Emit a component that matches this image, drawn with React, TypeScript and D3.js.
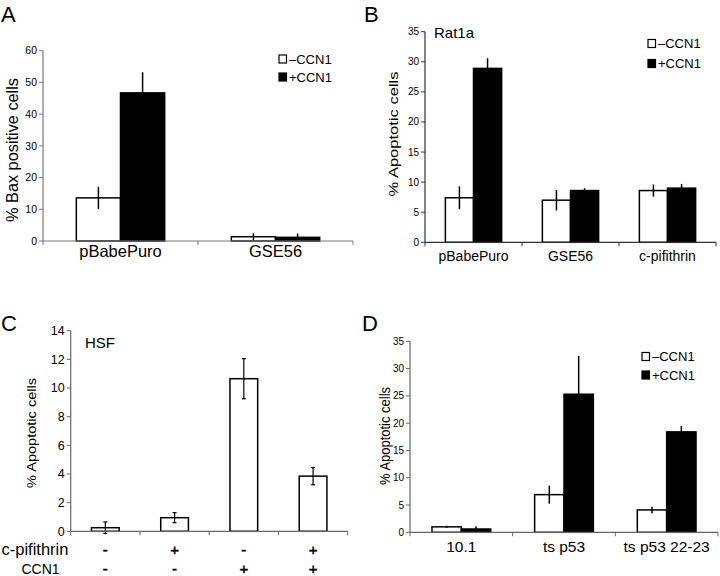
import React from "react";
import * as d3 from "d3";

// ---------- Data ----------
const aCategories = ["pBabePuro", "GSE56"];
const aMinus = [13.6, 1.35];
const aMinusErr = [3.5, 1.1];
const aPlus = [46.7, 1.15];
const aPlusErr = [6.5, 1.2];
const aTicks = [0, 10, 20, 30, 40, 50, 60];

const bCategories = ["pBabePuro", "GSE56", "c-pifithrin"];
const bMinus = [7.4, 7.0, 8.6];
const bMinusErr = [1.9, 1.7, 1.0];
const bPlus = [28.9, 8.6, 9.0];
const bPlusErr = [1.7, 0.4, 0.7];
const bTicks = [0, 5, 10, 15, 20, 25, 30, 35];

const cGroups = ["g1", "g2", "g3", "g4"];
const cValues = [0.25, 0.95, 10.65, 3.85];
const cErr = [0.4, 0.35, 1.4, 0.6];
const cPifithrin = ["-", "+", "-", "+"];
const cCCN1 = ["-", "-", "+", "+"];
const cTicks = [0, 2, 4, 6, 8, 10, 12, 14];

const dCategories = ["10.1", "ts p53", "ts p53 22-23"];
const dMinus = [1.0, 6.9, 4.1];
const dMinusErr = [0.2, 1.65, 0.6];
const dPlus = [0.6, 25.3, 18.4];
const dPlusErr = [0.5, 7.0, 1.1];
const dTicks = [0, 5, 10, 15, 20, 25, 30, 35];

const legendLabels = ["\u2013CCN1", "+CCN1"];

const FONT = "'Liberation Sans', Arial, sans-serif";

type PairPanelProps = {
  x0: number; x1: number; yBase: number; yTopPx: number; yMax: number;
  ticks: number[]; categories: string[];
  minus: number[]; minusErr: number[]; plus: number[]; plusErr: number[];
  tickFont: number; catFont: number; catBaseline: number;
  yTitle: string; yTitleX: number; yTitleY: number; yTitleFont: number; yTitleLen: number;
  legendX: number; legendY: number; legendGap: number;
  axisColor: string; barFrac: number;
};

function PairPanel(p: PairPanelProps) {
  const y = d3.scaleLinear().domain([0, p.yMax]).range([p.yBase, p.yTopPx]);
  const x = d3.scaleBand<string>().domain(p.categories).range([p.x0, p.x1]).padding(0);
  const bw = x.bandwidth() * p.barFrac;
  const bounds = [...p.categories.map((c) => x(c)!), p.x1];
  return (
    <g fontFamily={FONT}>
      {p.categories.map((c, i) => {
        const cx = x(c)! + x.bandwidth() / 2;
        const items = [
          { v: p.minus[i], e: p.minusErr[i], fill: "#fff", bx: cx - bw },
          { v: p.plus[i], e: p.plusErr[i], fill: "#000", bx: cx },
        ];
        return (
          <g key={c}>
            {items.map((it, j) => (
              <g key={j}>
                <rect x={it.bx} y={y(it.v)} width={bw} height={y(0) - y(it.v)}
                  fill={it.fill} stroke="#000" strokeWidth={1.5} />
                <line x1={it.bx + bw / 2} x2={it.bx + bw / 2}
                  y1={y(Math.max(0, it.v - it.e))} y2={y(it.v + it.e)}
                  stroke="#000" strokeWidth={1.5} />
              </g>
            ))}
            <text x={cx} y={p.catBaseline} textAnchor="middle" fontSize={p.catFont}>{c}</text>
          </g>
        );
      })}
      <line x1={p.x0} x2={p.x0} y1={p.yBase} y2={p.yTopPx} stroke={p.axisColor} strokeWidth={1.2} />
      <line x1={p.x0} x2={p.x1} y1={p.yBase} y2={p.yBase} stroke={p.axisColor} strokeWidth={1.2} />
      {p.ticks.map((t) => (
        <g key={t}>
          <line x1={p.x0 - 4} x2={p.x0} y1={y(t)} y2={y(t)} stroke={p.axisColor} strokeWidth={1} />
          <text x={p.x0 - 6} y={y(t)} dy="0.35em" textAnchor="end" fontSize={p.tickFont}>{t}</text>
        </g>
      ))}
      {bounds.map((b, i) => (
        <line key={i} x1={b} x2={b} y1={p.yBase} y2={p.yBase + 4} stroke={p.axisColor} strokeWidth={1} />
      ))}
      <text transform={`translate(${p.yTitleX},${p.yTitleY}) rotate(-90)`} textAnchor="middle"
        fontSize={p.yTitleFont} dy="0.35em" textLength={p.yTitleLen} lengthAdjust="spacingAndGlyphs">{p.yTitle}</text>
      {legendLabels.map((l, i) => (
        <g key={l} transform={`translate(${p.legendX},${p.legendY + i * p.legendGap})`}>
          <rect x={0} y={-4} width={7.5} height={8} fill={i === 0 ? "#fff" : "#000"} stroke="#000" strokeWidth={1.2} />
          <text x={10} y={0} dy="0.35em" fontSize={13}>{l}</text>
        </g>
      ))}
    </g>
  );
}

function PanelC() {
  const x0 = 70.7, x1 = 347.7, yBase = 531.3, yTopPx = 330.7;
  const y = d3.scaleLinear().domain([0, 14]).range([yBase, yTopPx]);
  const x = d3.scaleBand<string>().domain(cGroups).range([x0, x1]).padding(0);
  const bw = x.bandwidth() * 0.4;
  const bounds = [...cGroups.map((g) => x(g)!), x1];
  const axisColor = "#666";
  return (
    <g fontFamily={FONT}>
      {cGroups.map((g, i) => {
        const cx = x(g)! + x.bandwidth() / 2;
        const v = cValues[i], e = cErr[i];
        return (
          <g key={g}>
            <rect x={cx - bw / 2} y={y(v)} width={bw} height={y(0) - y(v)} fill="#fff" stroke="#000" strokeWidth={1.5} />
            <line x1={cx} x2={cx} y1={y(v - e)} y2={y(v + e)} stroke="#000" strokeWidth={1.2} />
            <line x1={cx - 2} x2={cx + 2} y1={y(v - e)} y2={y(v - e)} stroke="#000" strokeWidth={1.2} />
            <line x1={cx - 2} x2={cx + 2} y1={y(v + e)} y2={y(v + e)} stroke="#000" strokeWidth={1.2} />
            <text x={cx} y={555} textAnchor="middle" fontSize={15} stroke="#000" strokeWidth={0.5}>{cPifithrin[i]}</text>
            <text x={cx} y={574} textAnchor="middle" fontSize={15} stroke="#000" strokeWidth={0.5}>{cCCN1[i]}</text>
          </g>
        );
      })}
      <line x1={x0} x2={x0} y1={yBase} y2={yTopPx} stroke={axisColor} strokeWidth={1.2} />
      <line x1={x0} x2={x1} y1={yBase} y2={yBase} stroke={axisColor} strokeWidth={1.2} />
      {cTicks.map((t) => (
        <g key={t}>
          <line x1={x0 - 4} x2={x0} y1={y(t)} y2={y(t)} stroke={axisColor} strokeWidth={1} />
          <text x={x0 - 6} y={y(t)} dy="0.35em" textAnchor="end" fontSize={12.5}>{t}</text>
        </g>
      ))}
      {bounds.map((b, i) => (
        <line key={i} x1={b} x2={b} y1={yBase} y2={yBase + 4} stroke={axisColor} strokeWidth={1} />
      ))}
      <text transform={`translate(31,433) rotate(-90)`} textAnchor="middle" fontSize={13.5} dy="0.35em"
        textLength={110} lengthAdjust="spacingAndGlyphs">% Apoptotic cells</text>
      <text x={85} y={348} fontSize={15}>HSF</text>
      <text x={1.5} y={555} fontSize={16.5}>c-pifithrin</text>
      <text x={21.5} y={574} fontSize={14}>CCN1</text>
    </g>
  );
}

export default function App() {
  return (
    <svg width={720} height={576} style={{ position: "absolute", left: 0, top: 0, background: "#fff" }}>
      <rect width={720} height={576} fill="#fff" />
      <g fontFamily={FONT} fontSize={22}>
        <text x={1} y={22}>A</text>
        <text x={364} y={22}>B</text>
        <text x={1} y={331}>C</text>
        <text x={362} y={331}>D</text>
      </g>
      <PairPanel x0={43} x1={353} yBase={241} yTopPx={50.7} yMax={60} ticks={aTicks}
        categories={aCategories} minus={aMinus} minusErr={aMinusErr} plus={aPlus} plusErr={aPlusErr}
        tickFont={10.5} catFont={16.5} catBaseline={257}
        yTitle="% Bax positive cells" yTitleX={12} yTitleY={150} yTitleFont={16} yTitleLen={144}
        legendX={279} legendY={59} legendGap={18} axisColor="#777" barFrac={0.285} />
      <PairPanel x0={425} x1={716} yBase={242.3} yTopPx={31.7} yMax={35} ticks={bTicks}
        categories={bCategories} minus={bMinus} minusErr={bMinusErr} plus={bPlus} plusErr={bPlusErr}
        tickFont={10} catFont={14} catBaseline={261}
        yTitle="% Apoptotic cells" yTitleX={393} yTitleY={134} yTitleFont={13.5} yTitleLen={125}
        legendX={648} legendY={43.5} legendGap={20} axisColor="#333" barFrac={0.29} />
      <PanelC />
      <PairPanel x0={410} x1={718} yBase={532.3} yTopPx={341.3} yMax={35} ticks={dTicks}
        categories={dCategories} minus={dMinus} minusErr={dMinusErr} plus={dPlus} plusErr={dPlusErr}
        tickFont={10} catFont={15.5} catBaseline={552}
        yTitle="% Apoptotic cells" yTitleX={385} yTitleY={436} yTitleFont={14.5} yTitleLen={98}
        legendX={642} legendY={356.5} legendGap={18.5} axisColor="#666" barFrac={0.286} />
      <text x={434} y={38} fontFamily={FONT} fontSize={15}>Rat1a</text>
    </svg>
  );
}
